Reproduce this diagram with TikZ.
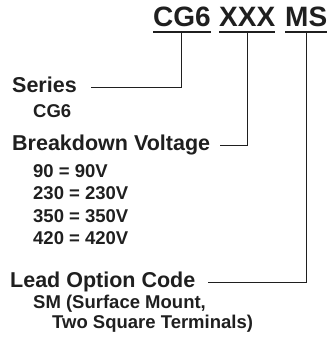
\documentclass[tikz,border=0pt]{standalone}
\usepackage{fontspec}
\setmainfont{Liberation Sans}
\usetikzlibrary{positioning,calc}

\begin{document}
\begin{tikzpicture}[
    x=1pt, y=-1pt,
    code/.style={anchor=base west, inner sep=0pt, text=black!88, font=\fontsize{28}{32}\selectfont\bfseries},
    head/.style={anchor=base west, inner sep=0pt, text=black!88, font=\fontsize{21.5}{25}\selectfont\bfseries},
    item/.style={anchor=base west, inner sep=0pt, text=black!88, font=\fontsize{18.5}{22}\selectfont\bfseries},
    uline/.style={line width=2pt, color=black!88},
    conn/.style={line width=1pt, color=black!88}
]
    \useasboundingbox (0,0) rectangle (332,343);

    % Part number
    \node[code] (cg6) at (153,26) {CG6};
    \node[code] (xxx) at (219,26) {XXX};
    \node[code] (ms)  at (285,26) {MS};

    \draw[uline] ([yshift=-6pt]cg6.base west) -- ([yshift=-6pt]cg6.base east);
    \draw[uline] ([yshift=-6pt]xxx.base west) -- ([yshift=-6pt]xxx.base east);
    \draw[uline] ([yshift=-6pt]ms.base west)  -- ([yshift=-6pt]ms.base east);

    % Series
    \node[head] (series) at (12,92)  {Series};
    \node[item] (cgsub)  at (33,117) {CG6};

    % Breakdown voltage
    \node[head] (volt) at (12,150) {Breakdown Voltage};
    \node[item] (v90)  at (33,177) {90 = 90V};
    \node[item] (v230) at (33,199.5) {230 = 230V};
    \node[item] (v350) at (33,222) {350 = 350V};
    \node[item] (v420) at (33,244.5) {420 = 420V};

    % Lead option
    \node[head] (lead) at (10,287) {Lead Option Code};
    \node[item] (sm)   at (33,308) {SM (Surface Mount,};
    \node[item] (sq)   at (52,328) {Two Square Terminals)};

    % Connectors
    \draw[conn] ([yshift=-7pt]cg6.base) |- ([xshift=14pt,yshift=5pt]series.base east);
    \draw[conn] ([yshift=-7pt]xxx.base) |- ([xshift=10pt,yshift=5pt]volt.base east);
    \draw[conn] ([yshift=-7pt]ms.base)  |- ([xshift=12pt,yshift=5pt]lead.base east);

\end{tikzpicture}
\end{document}
